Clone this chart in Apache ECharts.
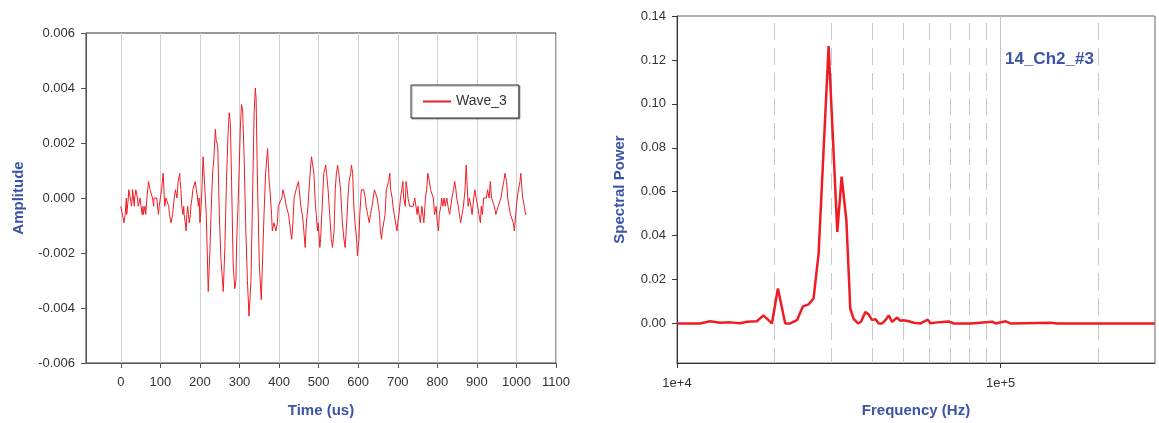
<!DOCTYPE html>
<html>
<head>
<meta charset="utf-8">
<script src="https://cdn.jsdelivr.net/npm/echarts@6/dist/echarts.min.js"></script>
<style>
  html, body { margin: 0; padding: 0; background: #fff; }
  #chart { width: 1159px; height: 423px; }
</style>
</head>
<body>
<div id="chart"></div>
<script>
// 左图：波形 (Time us / Amplitude)
const waveTime = [
  0, 4, 8, 11, 14, 15, 17, 19, 20, 22, 24, 25, 27, 29, 30, 32, 34, 35, 38, 41,
  42, 44, 46, 49, 51, 54, 56, 57, 61, 63, 66, 68, 70, 73, 74, 78, 80, 83, 84, 89,
  91, 95, 97, 100, 103, 107, 110, 111, 114, 118, 121, 123, 127, 128, 131, 135, 138, 140, 142, 145,
  149, 150, 152, 154, 157, 159, 160, 163, 165, 167, 169, 171, 173, 176, 177, 180, 182, 186, 188, 191,
  194, 196, 198, 200, 203, 205, 208, 212, 216, 221, 225, 228, 232, 235, 239, 241, 245,
  249, 253, 259, 263, 267, 271, 274, 277, 280, 284, 288, 291, 293, 297, 302, 305, 308, 312, 316, 320,
  324, 329, 333, 337, 340, 342, 345, 350, 355, 358, 362, 366, 371, 375, 377, 381, 383, 387, 392, 396,
  398, 403, 407, 410, 413, 415, 418, 421, 424, 427, 429, 432, 435, 438, 440, 443, 446, 449, 451, 455,
  459, 461, 466, 469, 473, 477, 480, 482, 485, 488, 492, 494, 497, 499, 503, 505,
  509, 513, 518, 520, 524, 528, 532, 535, 539, 542, 545, 548, 551, 556, 560, 564, 567, 571, 574, 577,
  581, 583, 586, 589, 592, 596, 598, 602, 604, 608, 611, 614, 618, 620, 624, 628, 631, 635, 638, 641,
  645, 648, 651, 654, 656, 659, 661, 665, 668, 671, 673, 677, 680, 682, 686, 688, 691, 694, 698, 700,
  703, 707, 710, 713, 715, 719, 721, 724, 726, 730, 735, 739, 743, 746, 749, 751, 755, 757, 761, 766, 770,
  773, 776, 780, 783, 786, 790, 793, 797, 800, 803, 805, 809, 811, 814, 817, 820, 824, 827, 831, 834,
  837, 841, 844, 847, 849, 853, 856, 859, 863, 866, 870, 873, 875, 878, 881, 885, 888, 892, 895, 898,
  902, 905, 909, 911, 914, 917, 920, 924, 927, 931, 934, 937, 941, 944, 948, 951, 954, 958, 961, 964,
  968, 971, 975, 978, 981, 985, 988, 992, 995, 998, 1002, 1005, 1009, 1011, 1014, 1016, 1020, 1023, 1025
];
const waveAmp = [
  -0.0003, -0.0003, -0.0009, -0.0006, 0, -0.0006, -0.0006, 0, 0.0003, 0.0003, 0, 0, -0.0003, 0, 0.0003, 0, -0.0003, 0, 0.0003, 0.0003,
  0, -0.0003, -0.0003, 0, -0.0003, -0.0006, -0.0003, -0.0006, -0.0003, -0.0006, 0, 0.0003, 0.0006, 0.0006, 0.0003, 0.0003, 0, -0.0003, 0, 0,
  0, -0.0006, -0.0003, 0, 0.0003, 0.0009, 0, -0.0003, 0, 0, -0.0003, -0.0006, -0.0009, -0.0009, -0.0006, 0, 0.0003, 0.0003, 0, 0.0006,
  0.0009, 0.0006, 0.0003, -0.0003, -0.0006, -0.0003, -0.0006, -0.0009, -0.0012, -0.0006, -0.0003, -0.0006, -0.0009, -0.0006, -0.0003, 0, 0.0003, 0.0003, 0.0006, 0.0003,
  0, -0.0003, 0, -0.0009, -0.0003, 0.0003, 0.0015, 0.0015, -0.0006, -0.0034, -0.0020, -0.0006, 0.0009, 0.0014, 0.0025, 0.0021, 0.0019,
  -0.0006, -0.0022, -0.0034, -0.0018, 0.0006, 0.0023, 0.0031, 0.0027, 0.0006, -0.0024, -0.0033, -0.0030, -0.0015, 0, 0.0025, 0.0034, 0.0032, 0.0013, -0.0012, -0.0030,
  -0.0043, -0.0030, 0, 0.0031, 0.0040, 0.0036, 0.0009, -0.0024, -0.0037, -0.0024, -0.0006, 0.0009, 0.0018, 0.0006, 0.0003, -0.0006, -0.0012, -0.0009, -0.0012, -0.0009,
  -0.0003, -0.0003, 0, 0.0003, 0.0003, 0, -0.0003, -0.0003, -0.0006, -0.0006, -0.0012, -0.0015, -0.0009, 0, 0, 0.0003, 0.0003, 0.0006, 0.0003, -0.0003,
  -0.0006, -0.0009, -0.0018, -0.0009, -0.0003, 0.0006, 0.0012, 0.0015, 0.0012, 0.0009, -0.0003, -0.0006, -0.0012, -0.0009, -0.0018, -0.0015,
  -0.0003, 0.0009, 0.0012, 0.0009, 0.0003, -0.0006, -0.0015, -0.0018, -0.0012, 0.0003, 0.0009, 0.0012, 0.0009, 0.0002, -0.0009, -0.0015, -0.0018, -0.0009, 0, 0.0006,
  0.0009, 0.0012, 0.0009, -0.0003, -0.0009, -0.0015, -0.0021, -0.0015, -0.0006, 0.0003, 0.0003, 0.0003, 0, -0.0003, -0.0006, -0.0009, -0.0006, -0.0003, 0, 0.0003,
  0.0003, 0, -0.0003, -0.0006, -0.0012, -0.0015, -0.0012, -0.0012, -0.0006, 0.0003, 0.0003, 0.0006, 0.0009, 0.0003, 0, -0.0003, -0.0006, -0.0006, -0.0012, -0.0009,
  -0.0006, 0, 0.0003, 0.0006, 0, -0.0003, 0.0006, 0.0003, 0, -0.0003, -0.0003, -0.0003, 0, -0.0003, -0.0006, -0.0003, -0.0003, -0.0009, -0.0003, -0.0009, 0,
  0.0003, 0.0009, 0.0006, 0.0003, 0.0003, 0, -0.0006, -0.0003, -0.0009, -0.0012, -0.0006, -0.0003, 0, -0.0003, 0, -0.0003, 0, -0.0003, -0.0006, -0.0003,
  0, 0.0003, 0.0006, 0.0003, 0, -0.0003, -0.0006, -0.0009, -0.0009, -0.0003, 0.0003, 0.0012, 0.0006, -0.0003, 0, -0.0003, -0.0006, 0, 0.0003, 0,
  -0.0003, -0.0006, -0.0009, -0.0003, -0.0006, 0, 0, 0, 0.0003, 0, 0.0006, 0, 0, -0.0003, -0.0006, -0.0006, -0.0003, -0.0003, 0, 0.0003,
  0.0006, 0.0009, 0.0006, 0, -0.0003, -0.0006, -0.0006, -0.0009, -0.0012, -0.0006, 0, 0.0003, 0.0006, 0.0009, 0.0003, 0, -0.0003, -0.0006, -0.0006
];
const timeTicks = [0, 100, 200, 300, 400, 500, 600, 700, 800, 900, 1000, 1100];

// 右图：频谱 (Frequency Hz / Spectral Power)
const freqHz = [
  10000, 11780, 12650, 13590, 14590, 15670, 16440, 17650, 18500, 19650,
  20500, 21600, 22380, 23480, 24500, 25500, 26420, 27390, 29410, 31290,
  32270, 33370, 34320, 35140, 36260, 37050, 38190, 39110, 40060, 41020,
  42000, 43020, 44060, 45110, 46210, 47890, 49020, 50180, 52000, 53890,
  56520, 59550, 60720, 63680, 65990, 69170, 71680, 80740, 94260, 96500,
  103600, 107400, 142800, 149800, 300000
];
const specPower = [
  0, 0, 0.001, 0.0003, 0.0005, 0.0001, 0.0008, 0.001, 0.0037, 0,
  0.0159, 0, 0, 0.0015, 0.0078, 0.0087, 0.0113, 0.0318, 0.1263, 0.0417,
  0.0669, 0.047, 0.0067, 0.0021, 0, 0.0008, 0.0052, 0.0041, 0.0015, 0.002,
  0, 0, 0.0015, 0.0037, 0.0007, 0.0027, 0.0012, 0.0015, 0.001, 0.0003,
  0, 0.0017, 0.0001, 0.0005, 0.0007, 0.0009, 0, 0, 0.0008, 0,
  0.001, 0, 0.0003, 0, 0
];
const freqTicks = [10000, 100000];
const powerTicks = [0, 0.02, 0.04, 0.06, 0.08, 0.10, 0.12, 0.14];
const dashFreqs = [20000, 30000, 40000, 50000, 60000, 70000, 80000, 90000, 200000];

const FONT = 'Liberation Sans, Arial, sans-serif';
const BLUE = '#3b54a5';
const RED = '#ee1d25';

let chart = echarts.init(document.getElementById('chart'));
chart.setOption({
  animation: false,
  textStyle: { fontFamily: FONT },
  title: {
    text: '14_Ch2_#3',
    left: 1005, top: 51, padding: 0,
    textStyle: { fontSize: 17, fontWeight: 'bold', color: BLUE, fontFamily: FONT }
  },
  legend: {
    data: ['Wave_3'],
    left: 411, top: 85,
    padding: [9, 12],
    icon: 'rect',
    itemWidth: 28, itemHeight: 2,
    borderColor: '#333', borderWidth: 1,
    shadowColor: 'rgba(0,0,0,0.35)', shadowOffsetX: 1, shadowOffsetY: 1, shadowBlur: 1,
    backgroundColor: '#fff',
    textStyle: { fontSize: 14, color: '#333', fontFamily: FONT, lineHeight: 15 }
  },
  grid: [
    { left: 86, top: 33, width: 470, height: 330, show: true, borderColor: '#333', borderWidth: 1, outerBoundsMode: 'none' },
    { left: 677, top: 16, width: 478, height: 347, show: true, borderColor: '#666', borderWidth: 1, outerBoundsMode: 'none' }
  ],
  xAxis: [
    {
      gridIndex: 0, type: 'value', min: -88, max: 1100,
      name: 'Time (us)', nameLocation: 'middle', nameGap: 40,
      nameTextStyle: { fontSize: 15, fontWeight: 'bold', color: BLUE },
      axisLine: { onZero: false, lineStyle: { color: '#555' } },
      axisTick: { show: true, length: 5, customValues: timeTicks, lineStyle: { color: '#555' } },
      axisLabel: { customValues: timeTicks, fontSize: 13, color: '#333', margin: 13, formatter: v => String(v) },
      splitLine: { show: true, lineStyle: { color: '#d2d2d2', width: 1 } }
    },
    {
      gridIndex: 1, type: 'log', logBase: 10, min: 10000, max: 300000,
      name: 'Frequency (Hz)', nameLocation: 'middle', nameGap: 40,
      nameTextStyle: { fontSize: 15, fontWeight: 'bold', color: BLUE },
      axisLine: { onZero: false, lineStyle: { color: '#333' } },
      axisTick: { show: true, length: 5, customValues: freqTicks, lineStyle: { color: '#333' } },
      axisLabel: {
        customValues: freqTicks,
        fontSize: 13, color: '#333', margin: 14,
        formatter: v => '1e+' + Math.round(Math.log10(v))
      },
      splitLine: { show: true, lineStyle: { color: '#c4c4c4', width: 1 } },
      minorTick: { show: false }
    }
  ],
  yAxis: [
    {
      gridIndex: 0, type: 'value', min: -0.006, max: 0.006, interval: 0.002,
      name: 'Amplitude', nameLocation: 'middle', nameGap: 60,
      nameTextStyle: { fontSize: 15, fontWeight: 'bold', color: BLUE },
      axisLine: { show: true, onZero: false, lineStyle: { color: '#555' } },
      axisTick: { show: true, length: 5, lineStyle: { color: '#555' } },
      axisLabel: { fontSize: 13, color: '#333', margin: 11, formatter: v => v.toFixed(3) },
      splitLine: { show: false }
    },
    {
      gridIndex: 1, type: 'value', min: -0.018, max: 0.14,
      name: 'Spectral Power', nameLocation: 'middle', nameGap: 50,
      nameTextStyle: { fontSize: 15, fontWeight: 'bold', color: BLUE },
      axisLine: { show: true, onZero: false, lineStyle: { color: '#333' } },
      axisTick: { show: true, length: 5, customValues: powerTicks, lineStyle: { color: '#333' } },
      axisLabel: { customValues: powerTicks, fontSize: 13, color: '#333', margin: 11, formatter: v => v.toFixed(2) },
      splitLine: { show: false }
    }
  ],
  series: [
    {
      name: 'Wave_3', type: 'line', xAxisIndex: 0, yAxisIndex: 0,
      symbol: 'none', showSymbol: false,
      lineStyle: { color: RED, width: 1 },
      itemStyle: { color: RED },
      data: waveTime.map((t, i) => [t, waveAmp[i]])
    },
    {
      name: 'Spectrum', type: 'line', xAxisIndex: 1, yAxisIndex: 1,
      symbol: 'none', showSymbol: false, z: 3,
      lineStyle: { color: RED, width: 2.5 },
      itemStyle: { color: RED },
      data: freqHz.map((f, i) => [f, specPower[i]]),
      markLine: {
        silent: true, z: 1,
        symbol: ['none', 'none'],
        label: { show: false },
        lineStyle: { color: '#c8c8c8', width: 1, type: [17, 8], dashOffset: 2 },
        data: dashFreqs.map(f => ({ xAxis: f }))
      }
    }
  ]
});
</script>
</body>
</html>
